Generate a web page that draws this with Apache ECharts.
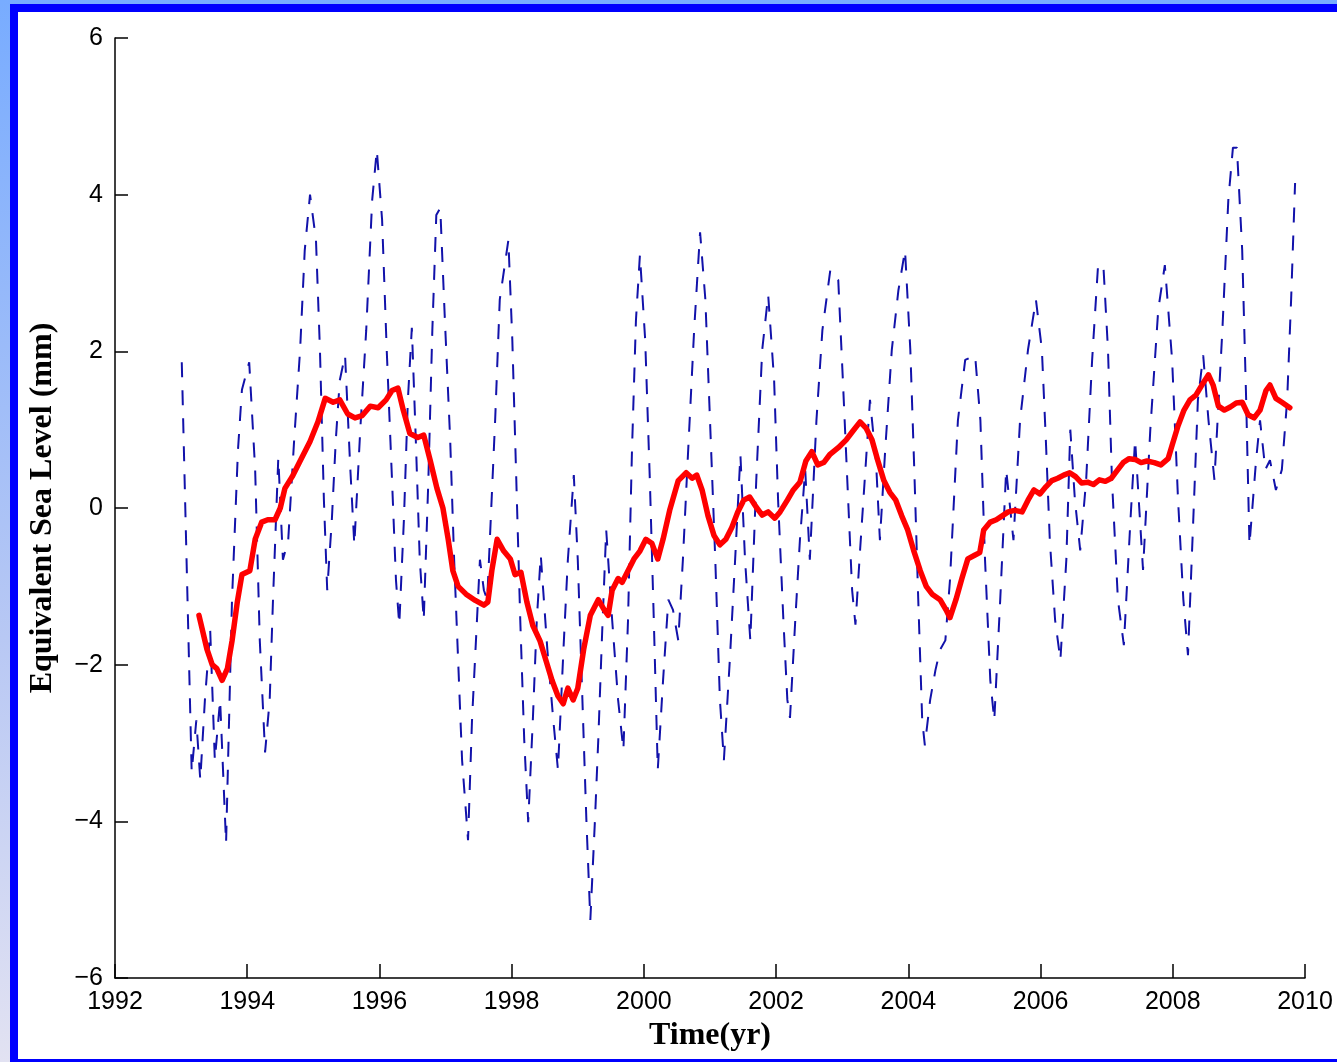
<!DOCTYPE html>
<html>
<head>
<meta charset="utf-8">
<script src="https://cdn.jsdelivr.net/npm/echarts@6/dist/echarts.min.js"></script>
<style>
  html, body { margin:0; padding:0; width:1337px; height:1062px; overflow:hidden; }
  #bg { position:absolute; left:0; top:0; width:1337px; height:1062px;
        background: linear-gradient(to bottom, #78acff 0%, #b8c8f4 60%, #e2e2f2 100%); }
  #frame { position:absolute; left:10px; top:4px; right:0; bottom:0;
           background:#ffffff; border-left:8px solid #0000ff; border-top:8px solid #0000ff;
           border-bottom:3px solid #0000ff; }
  #chart { position:absolute; left:0; top:0; width:1337px; height:1062px; }
</style>
</head>
<body>
<div id="bg"></div>
<div id="frame"></div>
<div id="chart"></div>
<script>
// Monthly equivalent sea level (blue dashed)
const blueYears = [1993.01,1993.16,1993.23,1993.29,1993.36,1993.44,1993.51,1993.59,1993.68,1993.77,1993.86,1993.92,
1994.03,1994.12,1994.19,1994.27,1994.34,1994.39,1994.47,1994.54,1994.62,1994.71,1994.80,1994.87,1994.95,
1995.04,1995.10,1995.16,1995.21,1995.28,1995.34,1995.40,1995.48,1995.56,1995.62,1995.71,1995.80,1995.89,1995.96,
1996.04,1996.11,1996.19,1996.25,1996.30,1996.37,1996.43,1996.49,1996.55,1996.61,1996.67,1996.74,1996.80,1996.86,1996.92,1996.99,
1997.07,1997.13,1997.19,1997.25,1997.34,1997.40,1997.46,1997.52,1997.58,1997.63,1997.75,1997.82,1997.95,
1998.01,1998.07,1998.13,1998.19,1998.25,1998.32,1998.38,1998.44,1998.54,1998.63,1998.70,1998.79,1998.85,1998.94,
1999.00,1999.07,1999.13,1999.19,1999.26,1999.31,1999.37,1999.43,1999.52,1999.61,1999.69,1999.76,1999.82,1999.88,1999.94,
2000.02,2000.09,2000.15,2000.21,2000.29,2000.37,2000.44,2000.52,2000.59,2000.67,2000.76,2000.85,2000.93,
2001.00,2001.08,2001.15,2001.21,2001.30,2001.38,2001.46,2001.53,2001.61,2001.70,2001.79,2001.88,2001.97,
2002.03,2002.11,2002.17,2002.21,2002.29,2002.36,2002.44,2002.51,2002.61,2002.70,2002.82,2002.94,
2003.01,2003.09,2003.15,2003.20,2003.27,2003.36,2003.42,2003.51,2003.57,2003.65,2003.75,2003.85,2003.95,
2004.03,2004.09,2004.15,2004.21,2004.25,2004.33,2004.41,2004.48,2004.56,2004.63,2004.75,2004.86,
2005.01,2005.09,2005.16,2005.24,2005.30,2005.39,2005.48,2005.59,2005.69,2005.81,2005.93,
2006.02,2006.08,2006.14,2006.22,2006.30,2006.39,2006.45,2006.52,2006.60,2006.69,2006.78,2006.87,2006.95,
2007.02,2007.08,2007.17,2007.26,2007.36,2007.43,2007.55,2007.66,2007.78,2007.88,2007.99,
2008.08,2008.16,2008.23,2008.31,2008.38,2008.46,2008.54,2008.63,2008.75,2008.84,2008.91,2008.97,
2009.05,2009.11,2009.16,2009.26,2009.32,2009.40,2009.47,2009.56,2009.65,2009.73,2009.79,2009.85];
const blueValues = [1.86,-3.37,-2.71,-3.47,-2.45,-1.56,-3.22,-2.45,-4.28,-1.17,0.74,1.51,
1.86,0.49,-1.69,-3.12,-2.45,-1.17,0.64,-0.66,-0.41,0.87,2.02,3.29,4.0,
3.42,2.02,0.10,-1.05,-0.15,0.87,1.63,1.95,0.49,-0.47,1.0,2.27,3.93,4.57,
3.68,2.02,0.36,-0.92,-1.49,-0.15,1.38,2.30,0.87,-0.66,-1.43,0.36,2.27,3.74,3.83,2.40,
0.87,-0.66,-1.94,-3.22,-4.24,-2.71,-1.69,-0.66,-1.05,-1.17,1.12,2.66,3.42,
2.14,0.36,-1.43,-2.96,-4.01,-2.71,-1.43,-0.60,-1.81,-2.71,-3.34,-1.69,-0.66,0.42,
-0.66,-2.45,-3.98,-5.26,-3.98,-2.96,-1.56,-0.28,-1.43,-2.45,-3.09,-1.43,0.74,2.40,3.23,
2.14,0.36,-1.43,-3.34,-2.20,-1.17,-1.30,-1.69,-0.66,0.74,2.27,3.52,2.66,
1.12,-0.66,-2.45,-3.22,-1.94,-0.66,0.68,-0.66,-1.69,0.36,2.02,2.72,1.63,
0.10,-1.43,-2.45,-2.68,-1.43,-0.41,0.49,-0.66,1.12,2.27,3.04,2.91,
1.63,0.10,-1.05,-1.49,-0.54,0.61,1.38,0.61,-0.41,0.74,2.02,2.78,3.29,
2.02,0.49,-1.17,-2.71,-3.03,-2.45,-2.07,-1.81,-1.69,-0.92,1.12,1.89,
1.95,1.12,-0.66,-2.20,-2.71,-1.17,0.49,-0.41,1.12,2.02,2.66,
2.02,0.87,-0.41,-1.43,-1.94,-0.66,1.0,0.10,-0.54,0.36,1.89,3.10,3.10,
2.02,0.36,-1.17,-1.75,-0.15,0.87,-0.79,1.0,2.53,3.10,1.89,
0.10,-1.17,-1.88,-0.15,1.38,1.95,1.12,0.36,2.27,3.93,4.60,4.60,
3.29,1.38,-0.47,0.61,1.12,0.49,0.61,0.23,0.49,1.38,2.66,4.15];

// Smoothed curve (red)
const redYears = [1993.27,1993.39,1993.47,1993.54,1993.62,1993.70,1993.77,1993.85,1993.92,
1994.04,1994.12,1994.22,1994.31,1994.42,1994.50,1994.57,1994.68,1994.80,1994.95,
1995.07,1995.18,1995.30,1995.40,1995.52,1995.63,1995.74,1995.86,1995.98,
1996.10,1996.19,1996.28,1996.36,1996.46,1996.58,1996.67,1996.77,1996.87,1996.96,
1997.04,1997.11,1997.19,1997.31,1997.45,1997.58,1997.64,1997.70,1997.78,1997.88,1997.98,
1998.05,1998.14,1998.23,1998.32,1998.43,1998.52,1998.61,1998.70,1998.78,1998.85,1998.93,
1999.00,1999.09,1999.19,1999.31,1999.40,1999.46,1999.52,1999.61,1999.67,1999.76,1999.85,1999.94,
2000.03,2000.12,2000.21,2000.29,2000.39,2000.52,2000.64,2000.73,2000.80,2000.88,2000.97,
2001.06,2001.15,2001.24,2001.33,2001.42,2001.51,2001.60,2001.70,2001.79,2001.88,2001.98,
2002.06,2002.17,2002.26,2002.36,2002.45,2002.54,2002.63,2002.72,2002.81,2002.94,
2003.06,2003.15,2003.27,2003.36,2003.45,2003.54,2003.63,2003.72,2003.81,2003.90,2003.99,
2004.08,2004.18,2004.27,2004.36,2004.48,2004.57,2004.63,2004.72,2004.81,2004.90,
2005.01,2005.08,2005.14,2005.24,2005.33,2005.42,2005.51,2005.61,2005.72,2005.81,2005.90,2005.99,
2006.08,2006.17,2006.26,2006.35,2006.44,2006.53,2006.62,2006.71,2006.80,2006.89,2006.98,
2007.07,2007.16,2007.25,2007.34,2007.43,2007.52,2007.61,2007.72,2007.82,2007.93,2007.99,
2008.08,2008.17,2008.26,2008.35,2008.44,2008.54,2008.61,2008.69,2008.78,2008.87,2008.96,
2009.05,2009.14,2009.23,2009.32,2009.41,2009.47,2009.56,2009.65,2009.77];
const redValues = [-1.37,-1.8,-2.0,-2.05,-2.2,-2.05,-1.7,-1.2,-0.85,
-0.8,-0.4,-0.18,-0.15,-0.15,0.0,0.25,0.4,0.6,0.85,
1.1,1.4,1.35,1.38,1.2,1.15,1.18,1.3,1.28,
1.38,1.5,1.53,1.25,0.95,0.9,0.93,0.6,0.25,0.0,
-0.4,-0.8,-1.0,-1.1,-1.18,-1.24,-1.2,-0.8,-0.4,-0.55,-0.65,
-0.85,-0.82,-1.2,-1.5,-1.7,-1.95,-2.2,-2.4,-2.5,-2.3,-2.45,
-2.3,-1.8,-1.37,-1.17,-1.3,-1.37,-1.05,-0.9,-0.95,-0.8,-0.65,-0.55,
-0.4,-0.45,-0.65,-0.4,-0.03,0.35,0.45,0.38,0.42,0.23,-0.1,
-0.35,-0.47,-0.4,-0.25,-0.05,0.1,0.14,0.01,-0.09,-0.05,-0.13,
-0.05,0.1,0.23,0.33,0.6,0.72,0.55,0.58,0.68,0.77,
0.87,0.97,1.1,1.02,0.87,0.6,0.35,0.2,0.1,-0.1,-0.28,
-0.54,-0.8,-1.0,-1.1,-1.17,-1.3,-1.4,-1.17,-0.9,-0.65,
-0.6,-0.57,-0.28,-0.18,-0.15,-0.1,-0.05,-0.03,-0.05,0.1,0.23,0.18,
0.27,0.35,0.38,0.42,0.45,0.4,0.32,0.33,0.3,0.36,0.34,
0.38,0.48,0.58,0.63,0.62,0.58,0.6,0.58,0.55,0.63,0.8,
1.05,1.25,1.38,1.44,1.57,1.7,1.57,1.3,1.25,1.29,1.34,
1.35,1.19,1.15,1.25,1.5,1.57,1.4,1.35,1.28];

const xTickMin = 1992, xTickMax = 2010, xTickStep = 2;
const yTickMin = -6, yTickMax = 6, yTickStep = 2;
const xTitle = 'Time(yr)';
const yTitle = 'Equivalent Sea Level (mm)';

const blueData = blueYears.map((x, i) => [x, blueValues[i]]);
const redData = redYears.map((x, i) => [x, redValues[i]]);

const chart = echarts.init(document.getElementById('chart'), null, {renderer: 'canvas'});
const tickFont = { color: '#000', fontSize: 25, fontFamily: '"Liberation Sans", Arial, Helvetica, sans-serif' };
const titleFont = { color: '#000', fontSize: 32, fontWeight: 'bold', fontFamily: '"Liberation Serif", "Times New Roman", serif' };

chart.setOption({
  backgroundColor: 'transparent',
  animation: false,
  grid: { left: 115, right: 32, top: 38, bottom: 84, containLabel: false },
  xAxis: {
    type: 'value', min: xTickMin, max: xTickMax, interval: xTickStep,
    name: xTitle, nameLocation: 'middle', nameGap: 42,
    nameTextStyle: titleFont,
    axisLine: { show: true, onZero: false, lineStyle: { color: '#000', width: 1.5 } },
    axisTick: { show: true, inside: true, length: 14, lineStyle: { color: '#000', width: 1.5 } },
    axisLabel: Object.assign({ margin: 12, showMinLabel: true, showMaxLabel: true,
      formatter: v => String(v) }, tickFont),
    splitLine: { show: false }
  },
  yAxis: {
    type: 'value', min: yTickMin, max: yTickMax, interval: yTickStep,
    name: yTitle, nameLocation: 'middle', nameGap: 56,
    nameTextStyle: titleFont,
    axisLine: { show: true, onZero: false, lineStyle: { color: '#000', width: 1.5 } },
    axisTick: { show: true, inside: true, length: 13, lineStyle: { color: '#000', width: 1.5 } },
    axisLabel: Object.assign({ margin: 12, showMinLabel: true, showMaxLabel: true,
      formatter: v => String(v).replace('-', '\u2212') }, tickFont),
    splitLine: { show: false }
  },
  series: [
    {
      type: 'line', data: blueData, showSymbol: false, symbol: 'none',
      lineStyle: { color: '#1212aa', width: 2, type: [15, 13] },
      z: 2
    },
    {
      type: 'line', data: redData, showSymbol: false, symbol: 'none',
      lineStyle: { color: '#ff0000', width: 5.5, join: 'round', cap: 'round' },
      z: 3
    }
  ]
});
</script>
</body>
</html>
